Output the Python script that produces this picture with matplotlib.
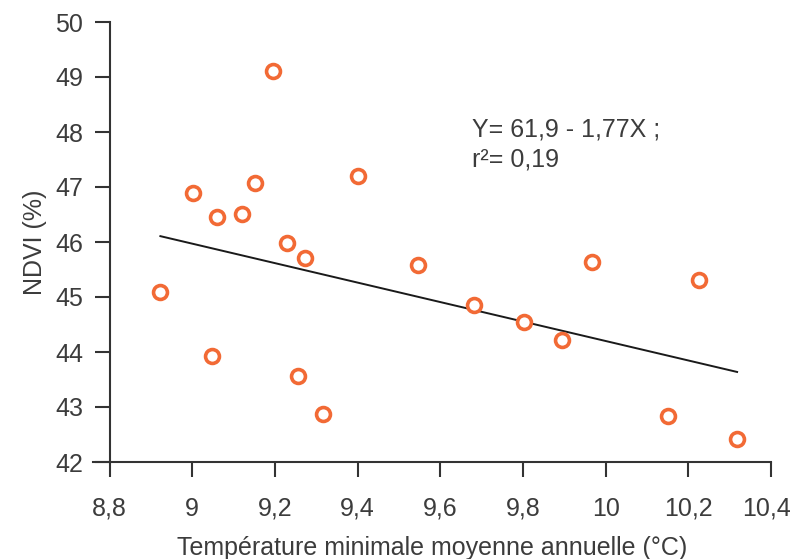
import matplotlib
matplotlib.use("Agg")
import matplotlib.pyplot as plt
import matplotlib.transforms as mtransforms
import numpy as np
from matplotlib.ticker import FuncFormatter

plt.rcParams['font.family'] = ['Liberation Sans', 'DejaVu Sans']

# Minimum mean annual temperature (°C) vs NDVI (%)
temp = [8.923, 9.003, 9.061, 9.047, 9.121, 9.153, 9.196, 9.230, 9.257, 9.274,
        9.317, 9.402, 9.547, 9.682, 9.803, 9.895, 9.967, 10.151, 10.226, 10.318]
ndvi = [45.09, 46.89, 46.45, 43.93, 46.51, 47.07, 49.11, 45.98, 43.56, 45.71,
        42.87, 47.20, 45.58, 44.85, 44.55, 44.22, 45.64, 42.84, 45.31, 42.42]

intercept = 61.9
slope = -1.77

text_col = '#3c3c3c'
orange = '#f26a35'
fs = 18

fig = plt.figure(figsize=(7.94, 5.59), dpi=100)
ax = fig.add_axes([93 / 794, 1 - 462 / 559, (771 - 93) / 794, (462 - 22) / 559])

ax.plot(temp, ndvi, linestyle='none', marker='o', markersize=10,
        markerfacecolor='white', markeredgecolor=orange, markeredgewidth=2.6, zorder=3)

xl = np.array([min(temp), max(temp)])
ax.plot(xl, intercept + slope * xl, color='#1a1a1a', linewidth=1.4, zorder=2)

ax.set_xlim(8.76, 10.4)
ax.set_ylim(42, 50)
ax.spines['left'].set_position(('data', 8.8))
ax.spines['top'].set_visible(False)
ax.spines['right'].set_visible(False)
for s in ('left', 'bottom'):
    ax.spines[s].set_color('#333333')
    ax.spines[s].set_linewidth(1.5)

xticks = [8.8, 9.0, 9.2, 9.4, 9.6, 9.8, 10.0, 10.2, 10.4]
yticks = [42, 43, 44, 45, 46, 47, 48, 49, 50]
ax.set_xticks(xticks)
ax.set_yticks(yticks)
fmt = FuncFormatter(lambda v, p: ('%g' % round(v, 1)).replace('.', ','))
ax.xaxis.set_major_formatter(fmt)
ax.tick_params(axis='both', direction='out', length=11, width=1.5, color='#333333',
               labelsize=fs, labelcolor=text_col)
ax.tick_params(axis='x', pad=14)
ax.tick_params(axis='y', pad=8)

# last tick label sits a little to the left so it stays inside the image
shift = mtransforms.ScaledTranslation(-5 / 100, 0, fig.dpi_scale_trans)
last = ax.get_xticklabels()[-1]
last.set_transform(last.get_transform() + shift)

ax.set_xlabel('Température minimale moyenne annuelle (°C)', fontsize=fs, color=text_col, labelpad=11)
ax.set_ylabel('NDVI (%)', fontsize=fs, color=text_col, labelpad=6)

ax.text(9.677, 48.05, 'Y= 61,9 - 1,77X ;', fontsize=fs, color=text_col, va='center')
ax.text(9.677, 47.5, 'r²= 0,19', fontsize=fs, color=text_col, va='center')

fig.savefig('out.png', dpi=100)
